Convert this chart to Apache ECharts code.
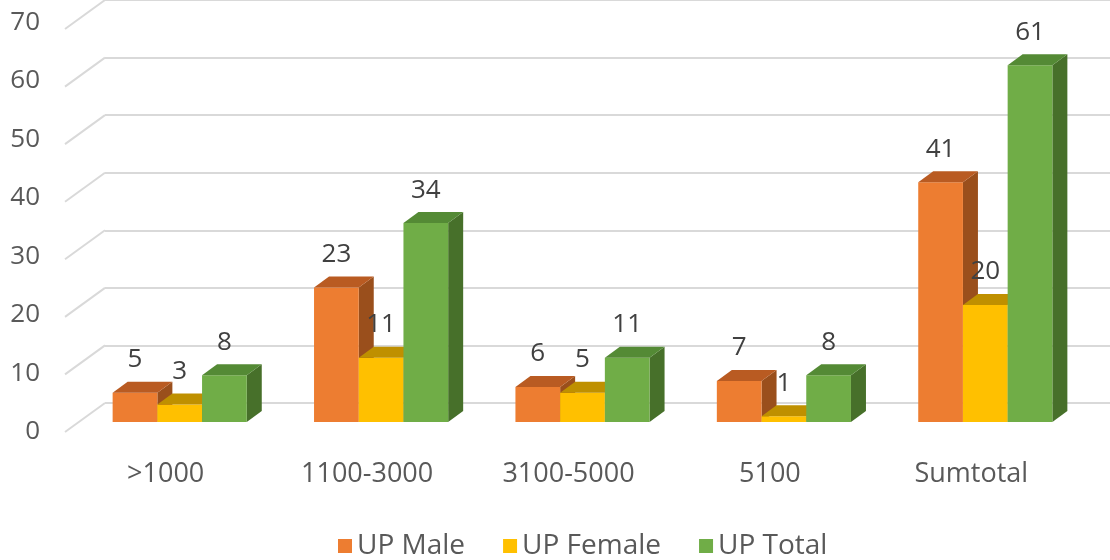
<!DOCTYPE html>
<html>
<head>
<meta charset="utf-8">
<script src="https://cdn.jsdelivr.net/npm/echarts@6/dist/echarts.min.js"></script>
<style>
  html, body { margin: 0; padding: 0; background: #fff; }
  #chart { width: 1110px; height: 560px; }
</style>
</head>
<body>
<div id="chart"></div>
<script>
// data
const categories = ['>1000', '1100-3000', '3100-5000', '5100', 'Sumtotal'];
const seriesNames = ['UP Male', 'UP Female', 'UP Total'];
const upMale = [5, 23, 6, 7, 41];
const upFemale = [3, 11, 5, 1, 20];
const upTotal = [8, 34, 11, 8, 61];
const yTicks = [0, 10, 20, 30, 40, 50, 60, 70];

// colours: front, top, side
const palette = [
    ['#ED7D31', '#B95B22', '#9A4F1C'],
    ['#FFC000', '#BF9000', '#A67C00'],
    ['#70AD47', '#548A35', '#47702A']
];

const FONT = '"Open Sans", sans-serif';
const DX = 15, DY = 11;        // bar depth
const BACK_DX = 40, BACK_DY = 29; // wall depth

function barRenderer(k) {
    return function (params, api) {
        const ci = api.value(0), v = api.value(1);
        const base = api.coord([ci, 0]);
        const top = api.coord([ci, v]);
        const band = api.size([1, 0])[0];
        const w = band * 0.222;
        const x0 = base[0] - 1.5 * w + k * w;
        const yt = top[1], yb = base[1];
        const c = palette[k];
        return {
            type: 'group',
            children: [
                { type: 'polygon', shape: { points: [[x0 + w, yt], [x0 + w, yb], [x0 + w + DX, yb - DY], [x0 + w + DX, yt - DY]] }, style: { fill: c[2] } },
                { type: 'rect', shape: { x: x0, y: yt, width: w, height: yb - yt }, style: { fill: c[0] } },
                { type: 'polygon', shape: { points: [[x0, yt], [x0 + w, yt], [x0 + w + DX, yt - DY], [x0 + DX, yt - DY]] }, style: { fill: c[1] } },
                { type: 'text', x: x0 + w / 2, y: yt - 33, style: { text: String(v), fill: '#404040', font: '26px ' + FONT, align: 'center', verticalAlign: 'middle' } }
            ]
        };
    };
}

const chart = echarts.init(document.getElementById('chart'));
const allSeries = [seriesNames, [upMale, upFemale, upTotal]];

chart.setOption({
    animation: false,
    legend: {
        bottom: -5,
        left: 333,
        data: seriesNames,
        icon: 'rect',
        itemWidth: 14,
        itemHeight: 14,
        itemGap: 38,
        textStyle: { color: '#595959', fontSize: 28, fontFamily: FONT }
    },
    grid: [
        { left: 65, top: 22.5, width: 1007, height: 409.5 },   // front: axis labels
        { left: 79, top: 12.5, width: 1007, height: 409.5 },   // bars
        { left: 105, top: -6.5, width: 1030, height: 409.5 }   // back wall
    ],
    xAxis: [
        {
            gridIndex: 0, type: 'category', data: categories,
            axisLine: { show: false }, axisTick: { show: false },
            axisLabel: { color: '#595959', fontSize: 27, fontFamily: FONT, margin: 29 }
        },
        { gridIndex: 1, type: 'category', data: categories, show: false },
        { gridIndex: 2, type: 'value', min: 0, max: 1, show: false }
    ],
    yAxis: [
        {
            gridIndex: 0, type: 'value', min: 0, max: 70, interval: 10,
            axisLine: { show: false }, axisTick: { show: false }, splitLine: { show: false },
            axisLabel: { color: '#595959', fontSize: 26, fontFamily: FONT, margin: 25 }
        },
        { gridIndex: 1, type: 'value', min: 0, max: 70, interval: 10, show: false, splitLine: { show: false } },
        {
            gridIndex: 2, type: 'value', min: 0, max: 70, interval: 10,
            axisLine: { show: false }, axisTick: { show: false }, axisLabel: { show: false },
            splitLine: { lineStyle: { color: '#D9D9D9', width: 2 } }
        }
    ],
    series: [
        {
            type: 'custom', name: 'wall', xAxisIndex: 2, yAxisIndex: 2, silent: true,
            data: yTicks.map(t => [0, t]),
            renderItem: function (params, api) {
                const p = api.coord([0, api.value(1)]);
                return { type: 'line', shape: { x1: p[0], y1: p[1], x2: p[0] - BACK_DX, y2: p[1] + BACK_DY }, style: { stroke: '#D9D9D9', lineWidth: 2 } };
            }
        }
    ].concat(allSeries[1].map((vals, k) => ({
        type: 'custom',
        name: seriesNames[k],
        xAxisIndex: 1, yAxisIndex: 1,
        itemStyle: { color: palette[k][0] },
        data: vals.map((v, i) => [i, v]),
        renderItem: barRenderer(k)
    })))
});
</script>
</body>
</html>
